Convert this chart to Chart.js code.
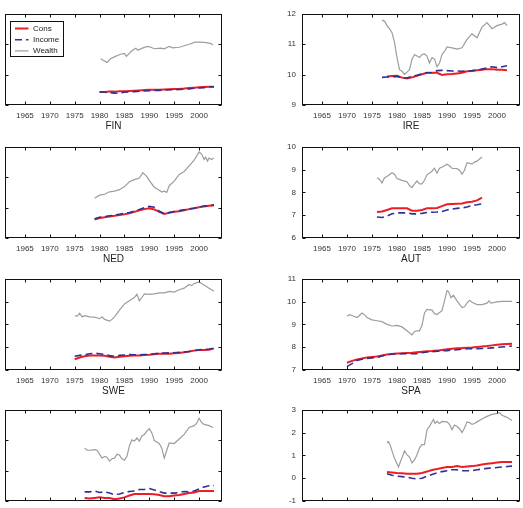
<!DOCTYPE html>
<html>
<head>
<meta charset="utf-8">
<script src="https://cdn.jsdelivr.net/npm/chart.js@4.4.1/dist/chart.umd.min.js"></script>
<style>
  html, body { margin: 0; padding: 0; background: #fff; }
  body { position: relative; width: 523px; height: 508px; overflow: hidden; }
  canvas { position: absolute; }
</style>
</head>
<body>
<script>
const xTickYears = [1965, 1970, 1975, 1980, 1985, 1990, 1995, 2000];
const seriesNames = ['Cons', 'Income', 'Wealth'];

// FIN
const finYears = [1980,1981,1982,1983,1984,1985,1986,1987,1988,1989,1990,1991,1992,1993,1994,1995,1996,1997,1998,1999,2000,2001,2002,2003];
const finCons = [9.43,9.43,9.44,9.44,9.45,9.45,9.46,9.47,9.48,9.49,9.50,9.50,9.50,9.51,9.52,9.53,9.53,9.54,9.56,9.57,9.58,9.59,9.60,9.60];
const finIncome = [9.43,9.42,9.41,9.39,9.40,9.42,9.43,9.44,9.45,9.46,9.47,9.48,9.48,9.49,9.50,9.50,9.51,9.52,9.53,9.55,9.56,9.57,9.59,9.60];
const finWealthYears = [1980.2,1981.5,1982.2,1983.2,1984.2,1985,1985.4,1986.6,1987.3,1987.7,1988.6,1989.6,1990.3,1991,1992.3,1993,1994,1994.7,1996,1997,1998,1999.2,2000.4,2001.4,2002.4,2002.8];
const finWealth = [10.52,10.40,10.52,10.60,10.67,10.70,10.60,10.80,10.87,10.80,10.87,10.93,10.90,10.85,10.87,10.85,10.93,10.88,10.90,10.95,11.00,11.07,11.07,11.05,11.02,10.97];
const finYTicks = [9, 10, 11, 12];

// IRE
const ireYears = [1977,1978,1979,1980,1981,1982,1983,1984,1985,1986,1987,1988,1989,1990,1991,1992,1993,1994,1995,1996,1997,1998,1999,2000,2001,2002];
const ireCons = [null,9.94,9.95,9.96,9.90,9.87,9.91,9.96,10.01,10.06,10.06,10.06,9.99,10.01,10.02,10.04,10.06,10.11,10.12,10.14,10.16,10.18,10.18,10.16,10.16,10.14];
const ireIncome = [9.91,9.92,9.93,9.94,9.90,9.89,9.94,9.98,10.03,10.06,10.06,10.13,10.14,10.13,10.12,10.12,10.11,10.12,10.13,10.15,10.18,10.22,10.26,10.23,10.26,10.29];
const ireWealthYears = [1977,1977.5,1978,1978.5,1979,1979.5,1980,1980.5,1981,1981.5,1982,1982.5,1983,1983.5,1984,1984.5,1985,1985.5,1986,1986.5,1987,1987.5,1988,1988.5,1989,1989.5,1990,1991,1992,1993,1994,1995,1996,1997,1998,1999,2000,2001,2001.5,2002];
const ireWealth = [11.79,11.76,11.61,11.51,11.38,11.06,10.56,10.16,10.11,10.01,10.08,10.16,10.51,10.66,10.61,10.56,10.66,10.68,10.61,10.38,10.56,10.51,10.26,10.38,10.66,10.76,10.91,10.88,10.84,10.88,11.16,11.34,11.21,11.56,11.71,11.51,11.61,11.66,11.71,11.61];
const ireYTicks = [9, 10, 11, 12];

// NED
const nedYears = [1979,1980,1981,1982,1983,1984,1985,1986,1987,1988,1989,1990,1991,1992,1993,1994,1995,1996,1997,1998,1999,2000,2001,2002,2003];
const nedCons = [9.61,9.66,9.68,9.71,9.73,9.76,9.78,9.81,9.86,9.91,9.95,9.98,9.94,9.86,9.79,9.83,9.86,9.88,9.91,9.95,9.98,10.01,10.04,10.06,10.08];
const nedIncome = [9.63,9.68,9.70,9.73,9.75,9.78,9.81,9.84,9.89,9.94,10.00,10.04,10.01,9.88,9.80,9.84,9.87,9.90,9.93,9.96,9.98,10.02,10.05,10.07,10.08];
const nedWealthYears = [1979,1980,1981,1982,1983,1984,1985,1986,1987,1988,1988.7,1989.5,1990,1991,1992,1992.5,1993,1993.5,1994,1995,1996,1997,1998,1999,2000,2000.5,2001,2001.3,2001.7,2002,2002.5,2003];
const nedWealth = [10.31,10.41,10.44,10.52,10.54,10.59,10.69,10.85,10.92,10.97,11.15,11.02,10.89,10.67,10.57,10.51,10.54,10.50,10.72,10.87,11.09,11.19,11.37,11.56,11.83,11.76,11.58,11.66,11.53,11.63,11.58,11.63];
const nedYTicks = [9, 10, 11, 12];

// AUT
const autYears = [1976,1977,1978,1979,1980,1981,1982,1983,1984,1985,1986,1987,1988,1989,1990,1991,1992,1993,1994,1995,1996,1997];
const autCons = [7.14,7.16,7.23,7.30,7.30,7.30,7.30,7.20,7.20,7.23,7.30,7.31,7.32,7.40,7.48,7.49,7.50,7.51,7.57,7.59,7.65,7.77];
const autIncome = [6.92,6.90,6.96,7.06,7.10,7.10,7.10,7.06,7.06,7.08,7.12,7.13,7.14,7.16,7.23,7.27,7.30,7.32,7.36,7.43,7.46,7.50];
const autWealthYears = [1976,1976.5,1977,1977.5,1978,1979,1979.5,1980,1981,1982,1982.5,1983,1983.5,1984,1984.5,1985,1985.5,1986,1987,1987.5,1988,1988.5,1989,1990,1990.5,1991,1992,1992.5,1993,1993.5,1994,1995,1995.5,1996,1997];
const autWealth = [8.64,8.57,8.41,8.64,8.70,8.86,8.80,8.61,8.53,8.47,8.30,8.21,8.37,8.50,8.37,8.37,8.53,8.77,8.93,9.06,8.84,9.06,9.10,9.24,9.17,9.06,9.04,8.97,8.80,8.97,9.30,9.24,9.33,9.37,9.55];
const autYTicks = [6, 7, 8, 9, 10];

// SWE
const sweYears = [1975,1976,1977,1978,1979,1980,1981,1982,1983,1984,1985,1986,1987,1988,1989,1990,1991,1992,1993,1994,1995,1996,1997,1998,1999,2000,2001,2002,2003];
const sweCons = [10.47,10.55,10.60,10.64,10.64,10.64,10.62,10.58,10.55,10.58,10.60,10.63,10.64,10.64,10.66,10.67,10.69,10.71,10.71,10.71,10.73,10.75,10.78,10.81,10.85,10.88,10.88,10.89,10.95];
const sweIncome = [10.60,10.64,10.67,10.71,10.74,10.71,10.68,10.63,10.60,10.64,10.66,10.68,10.67,10.67,10.68,10.68,10.71,10.74,10.74,10.75,10.76,10.78,10.79,10.81,10.85,10.89,10.90,10.92,10.95];
const sweWealthYears = [1975,1975.5,1976,1976.5,1977,1978,1979,1980,1980.5,1981,1982,1982.5,1983,1984,1985,1986,1987,1987.5,1988,1988.5,1989,1990,1991,1992,1993,1994,1995,1996,1997,1998,1998.5,1999,2000,2001,2002,2003];
const sweWealth = [12.38,12.36,12.49,12.33,12.38,12.33,12.32,12.25,12.33,12.22,12.15,12.22,12.33,12.63,12.90,13.04,13.18,13.32,13.04,13.18,13.34,13.32,13.34,13.38,13.38,13.45,13.42,13.52,13.59,13.75,13.70,13.79,13.86,13.73,13.59,13.45];
const sweYTicks = [10, 11, 12, 13, 14];

// SPA
const spaYears = [1970,1971,1972,1973,1974,1975,1976,1977,1978,1979,1980,1981,1982,1983,1984,1985,1986,1987,1988,1989,1990,1991,1992,1993,1994,1995,1996,1997,1998,1999,2000,2001,2002,2003];
const spaCons = [7.32,7.40,7.46,7.51,7.55,7.57,7.59,7.64,7.68,7.70,7.72,7.73,7.75,7.76,7.78,7.80,7.82,7.83,7.85,7.88,7.91,7.93,7.95,7.96,7.98,7.99,8.01,8.03,8.05,8.08,8.11,8.13,8.14,8.15];
const spaIncome = [7.15,7.28,7.42,7.47,7.51,7.53,7.55,7.61,7.67,7.70,7.72,7.72,7.71,7.71,7.72,7.76,7.79,7.80,7.82,7.84,7.85,7.87,7.89,7.91,7.93,7.93,7.93,7.94,7.95,7.97,7.99,8.01,8.03,8.05];
const spaWealthYears = [1970,1970.5,1971,1972,1972.5,1973,1973.5,1974,1975,1976,1977,1978,1979,1980,1981,1982,1983,1983.5,1984,1984.5,1985,1985.5,1986,1987,1987.5,1988,1989,1989.5,1990,1990.3,1990.8,1991.3,1992,1993,1993.5,1994,1994.5,1995,1996,1997,1998,1998.4,1998.8,2000,2001,2002,2003];
const spaWealth = [9.36,9.43,9.39,9.30,9.39,9.50,9.43,9.30,9.20,9.16,9.12,9.00,8.93,8.96,8.89,8.72,8.54,8.69,8.72,8.72,8.96,9.50,9.66,9.63,9.47,9.43,9.60,10.03,10.48,10.44,10.17,10.28,10.03,9.74,9.77,9.93,10.06,9.97,9.87,9.87,9.93,10.03,9.93,9.99,10.01,10.01,10.01];
const spaYTicks = [7, 8, 9, 10, 11];

// bottom row, left
const p7Years = [1977,1978,1979,1980,1981,1982,1983,1984,1985,1986,1987,1988,1989,1990,1991,1992,1993,1994,1995,1996,1997,1998,1999,2000,2001,2002,2003];
const p7Cons = [0.10,0.08,0.10,0.12,0.10,0.10,0.06,0.08,0.12,0.18,0.23,0.23,0.23,0.23,0.22,0.20,0.16,0.16,0.18,0.20,0.23,0.26,0.28,0.33,0.33,0.33,0.33];
const p7Income = [0.30,0.30,0.33,0.28,0.30,0.26,0.21,0.23,0.28,0.31,0.33,0.38,0.38,0.41,0.36,0.31,0.26,0.26,0.26,0.28,0.31,0.30,0.33,0.40,0.46,0.50,0.51];
const p7WealthYears = [1977,1977.5,1978,1979,1979.5,1980,1980.5,1981,1981.5,1982,1982.5,1983,1983.5,1984,1984.5,1985,1985.5,1986,1986.5,1987,1987.5,1988,1988.5,1989,1989.5,1990,1990.5,1991,1991.5,1992,1992.5,1993,1993.5,1994,1995,1996,1997,1998,1999,1999.5,2000,2000.5,2001,2002,2002.8];
const p7Wealth = [1.74,1.67,1.67,1.69,1.67,1.54,1.41,1.47,1.44,1.31,1.39,1.41,1.54,1.51,1.39,1.34,1.47,1.81,2.01,1.97,2.07,1.97,2.14,2.19,2.30,2.38,2.24,1.99,1.94,1.89,1.74,1.41,1.67,1.91,1.89,2.04,2.19,2.42,2.48,2.55,2.72,2.58,2.52,2.48,2.42];
const p7YTicks = [0, 1, 2, 3];

// bottom row, right
const p8Years = [1978,1979,1980,1981,1982,1983,1984,1985,1986,1987,1988,1989,1990,1991,1992,1993,1994,1995,1996,1997,1998,1999,2000,2001,2002,2003];
const p8Cons = [0.27,0.25,0.23,0.22,0.20,0.20,0.20,0.23,0.29,0.36,0.40,0.45,0.49,0.49,0.53,0.49,0.51,0.53,0.56,0.60,0.63,0.66,0.69,0.71,0.71,0.71];
const p8Income = [0.20,0.13,0.09,0.07,0.04,0.00,-0.03,0.00,0.09,0.16,0.23,0.29,0.33,0.37,0.37,0.33,0.33,0.33,0.37,0.40,0.43,0.45,0.47,0.49,0.51,0.53];
const p8WealthYears = [1978,1978.3,1978.6,1979,1979.5,1980,1980.3,1980.7,1981,1981.5,1982,1982.5,1983,1983.5,1984,1984.5,1985,1985.5,1986,1986.5,1987,1987.3,1987.6,1988,1988.5,1989,1990,1990.5,1991,1991.5,1992,1992.5,1993,1993.5,1994,1994.5,1995,1995.5,1996,1997,1998,1999,2000,2000.5,2001,2002,2003];
const p8Wealth = [1.56,1.60,1.47,1.20,0.87,0.63,0.49,0.73,0.89,1.20,1.03,0.93,0.67,0.80,1.03,1.33,1.47,1.47,2.13,2.27,2.47,2.57,2.40,2.49,2.40,2.49,2.47,2.36,2.13,2.33,2.27,2.17,2.00,2.20,2.47,2.44,2.36,2.40,2.47,2.60,2.71,2.80,2.84,2.87,2.76,2.67,2.53];
const p8YTicks = [-1, 0, 1, 2, 3];

const panels = [
  { name: 'FIN', years: finYears, cons: finCons, income: finIncome, wYears: finWealthYears, wealth: finWealth, yTicks: finYTicks, legend: true },
  { name: 'IRE', years: ireYears, cons: ireCons, income: ireIncome, wYears: ireWealthYears, wealth: ireWealth, yTicks: ireYTicks },
  { name: 'NED', years: nedYears, cons: nedCons, income: nedIncome, wYears: nedWealthYears, wealth: nedWealth, yTicks: nedYTicks },
  { name: 'AUT', years: autYears, cons: autCons, income: autIncome, wYears: autWealthYears, wealth: autWealth, yTicks: autYTicks },
  { name: 'SWE', years: sweYears, cons: sweCons, income: sweIncome, wYears: sweWealthYears, wealth: sweWealth, yTicks: sweYTicks },
  { name: 'SPA', years: spaYears, cons: spaCons, income: spaIncome, wYears: spaWealthYears, wealth: spaWealth, yTicks: spaYTicks },
  { name: '', years: p7Years, cons: p7Cons, income: p7Income, wYears: p7WealthYears, wealth: p7Wealth, yTicks: p7YTicks },
  { name: '', years: p8Years, cons: p8Cons, income: p8Income, wYears: p8WealthYears, wealth: p8Wealth, yTicks: p8YTicks }
];

// plot-area placement on the page
const colLeft = [5, 302];
const colRight = [222, 520];
const rowTop = [5, 138, 270, 401];
const plotH = 100;
const yAxisW = 40, xAxisH = 28, padTop = 2, padRight = 2;

const FONT = "'Liberation Sans', Arial, Helvetica, sans-serif";
const colors = { cons: '#ee1c24', income: '#2e3192', wealth: '#9d9d9d' };

const pts = (xs, ys) => xs.map((x, i) => ({ x: x, y: ys[i] }));

// box with inward tick marks, like the original figure
const framePlugin = {
  id: 'frame',
  afterDatasetsDraw(chart) {
    const { ctx, chartArea: a, scales: { x, y } } = chart;
    const l = Math.round(a.left) + 0.5, r = Math.round(a.right) - 0.5;
    const t = Math.round(a.top) + 0.5, b = Math.round(a.bottom) - 0.5;
    ctx.save();
    ctx.strokeStyle = '#111';
    ctx.lineWidth = 1;
    ctx.strokeRect(l, t, r - l, b - t);
    ctx.beginPath();
    x.ticks.forEach(tk => {
      const px = Math.round(x.getPixelForValue(tk.value)) + 0.5;
      ctx.moveTo(px, b); ctx.lineTo(px, b - 3);
      ctx.moveTo(px, t); ctx.lineTo(px, t + 3);
    });
    y.ticks.forEach(tk => {
      const py = Math.round(y.getPixelForValue(tk.value)) + 0.5;
      ctx.moveTo(l, py); ctx.lineTo(l + 3, py);
      ctx.moveTo(r, py); ctx.lineTo(r - 3, py);
    });
    ctx.stroke();
    ctx.restore();
  }
};

const boxLegend = {
  id: 'boxLegend',
  afterDraw(chart, args, opts) {
    if (!opts.show) return;
    const { ctx, chartArea: a } = chart;
    const bx = Math.round(a.left) + 5.5, by = Math.round(a.top) + 7.5;
    ctx.save();
    ctx.fillStyle = '#fff';
    ctx.strokeStyle = '#111';
    ctx.lineWidth = 1;
    ctx.fillRect(bx, by, 53, 35);
    ctx.strokeRect(bx, by, 53, 35);
    ctx.font = '8px ' + FONT;
    ctx.textBaseline = 'middle';
    chart.data.datasets.forEach((ds, i) => {
      const yy = by + 7 + i * 11.2;
      ctx.beginPath();
      ctx.strokeStyle = ds.borderColor;
      ctx.lineWidth = ds.borderWidth;
      ctx.setLineDash(ds.borderDash || []);
      ctx.moveTo(bx + 4.5, yy);
      ctx.lineTo(bx + 18, yy);
      ctx.stroke();
      ctx.setLineDash([]);
      ctx.fillStyle = '#222';
      ctx.fillText(ds.label, bx + 22.5, yy);
    });
    ctx.restore();
  }
};

panels.forEach((p, i) => {
  const col = i % 2, row = Math.floor(i / 2);
  const L = colLeft[col], R = colRight[col], T = rowTop[row];
  const canvas = document.createElement('canvas');
  const w = (R - L) + yAxisW + padRight;
  const h = plotH + padTop + xAxisH;
  canvas.width = w; canvas.height = h;
  canvas.style.width = w + 'px'; canvas.style.height = h + 'px';
  canvas.style.left = (L - yAxisW) + 'px';
  canvas.style.top = (T - padTop) + 'px';
  document.body.appendChild(canvas);

  new Chart(canvas.getContext('2d'), {
    type: 'line',
    data: {
      datasets: [
        { label: seriesNames[0], data: pts(p.years, p.cons), borderColor: colors.cons, borderWidth: 2, order: 3 },
        { label: seriesNames[1], data: pts(p.years, p.income), borderColor: colors.income, borderWidth: 1.6, borderDash: [7, 4], order: 2 },
        { label: seriesNames[2], data: pts(p.wYears, p.wealth), borderColor: colors.wealth, borderWidth: 1.2, order: 1 }
      ]
    },
    options: {
      responsive: false,
      animation: false,
      devicePixelRatio: 1,
      layout: { padding: { top: padTop, right: padRight, left: 0, bottom: 0 } },
      elements: { point: { radius: 0 }, line: { tension: 0, fill: false } },
      plugins: {
        legend: { display: false },
        tooltip: { enabled: false },
        boxLegend: { show: !!p.legend }
      },
      scales: {
        x: {
          type: 'linear',
          min: 1961,
          max: 2004.6,
          afterBuildTicks: s => { s.ticks = xTickYears.map(v => ({ value: v })); },
          afterFit: s => { s.height = xAxisH; },
          grid: { display: false, drawTicks: false },
          border: { display: false },
          ticks: {
            padding: 6, autoSkip: false, maxRotation: 0, color: '#333',
            font: { size: 8, family: FONT },
            callback: v => String(v)
          },
          title: {
            display: p.name !== '', text: p.name, color: '#222',
            font: { size: 10, family: FONT }, padding: { top: 0, bottom: 1 }
          }
        },
        y: {
          type: 'linear',
          min: p.yTicks[0],
          max: p.yTicks[p.yTicks.length - 1],
          afterBuildTicks: s => { s.ticks = p.yTicks.map(v => ({ value: v })); },
          afterFit: s => { s.width = yAxisW; },
          grid: { display: false, drawTicks: false },
          border: { display: false },
          ticks: {
            padding: 6, color: '#333',
            font: { size: 8, family: FONT },
            callback: v => String(v)
          }
        }
      }
    },
    plugins: [framePlugin, boxLegend]
  });
});
</script>
</body>
</html>
